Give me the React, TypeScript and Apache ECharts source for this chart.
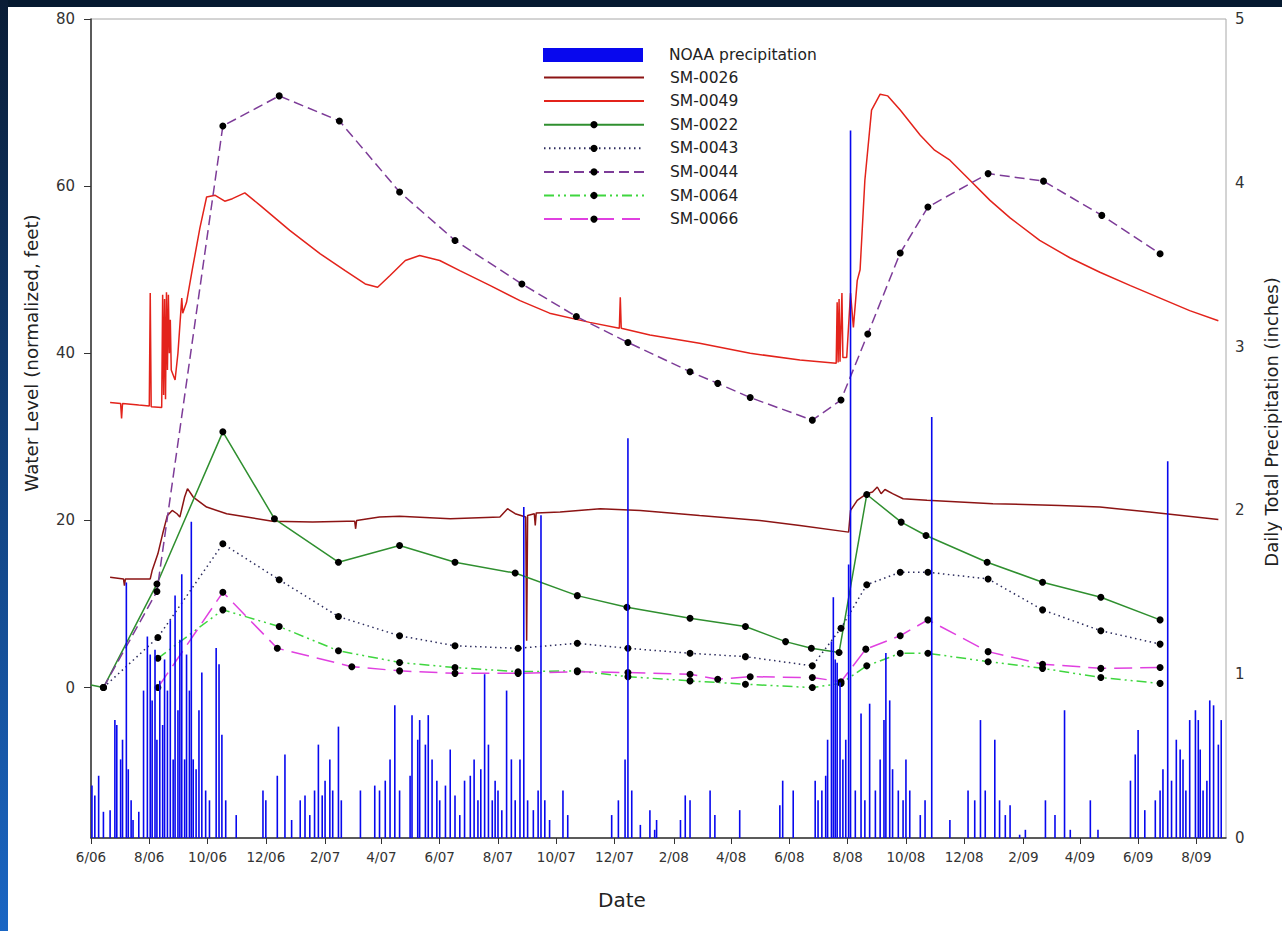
import React, { useEffect, useRef } from "react";
import * as echarts from "echarts";

// ---- data (day offsets from 2006-06-01) ----
const BASE = new Date(2006, 5, 1).getTime();
const DAY = 86400000;
const AXIS_END_DAY = 1188; // 2009-09-01

const precipitation: [number, number][] = [
  [1, 0.32], [4, 0.26], [8, 0.38], [13, 0.16], [20, 0.17], [25, 0.72], [27, 0.69], [31, 0.48], [33, 0.6],
  [37, 1.56], [39, 0.42], [42, 0.23], [44, 0.11], [50, 0.16], [55, 0.9], [59, 1.23], [62, 1.12], [64, 0.84],
  [67, 1.15], [69, 0.6], [72, 0.96], [75, 0.69], [77, 1.09], [80, 0.9], [83, 1.33], [86, 0.48], [88, 1.48],
  [91, 0.78], [93, 1.21], [95, 1.61], [98, 0.48], [100, 1.12], [103, 0.9], [105, 1.93], [107, 0.48],
  [110, 0.42], [113, 0.78], [116, 1.01], [120, 0.29], [124, 0.23], [131, 1.16], [134, 1.06], [137, 0.63],
  [141, 0.23], [152, 0.14], [180, 0.29], [183, 0.23], [195, 0.38], [203, 0.51], [210, 0.11], [219, 0.23],
  [224, 0.26], [229, 0.14], [234, 0.29], [238, 0.57], [242, 0.26], [245, 0.35], [250, 0.48], [253, 0.29],
  [259, 0.68], [262, 0.23], [282, 0.29], [297, 0.32], [302, 0.29], [308, 0.35], [313, 0.48], [318, 0.81],
  [323, 0.29], [334, 0.38], [336, 0.75], [342, 0.6], [344, 0.72], [350, 0.57], [353, 0.75], [357, 0.48],
  [362, 0.35], [365, 0.23], [371, 0.32], [376, 0.54], [381, 0.26], [386, 0.14], [391, 0.35], [397, 0.38],
  [401, 0.48], [405, 0.23], [408, 0.42], [412, 1.0], [416, 0.57], [420, 0.23], [423, 0.35], [426, 0.29],
  [430, 0.17], [435, 0.9], [440, 0.48], [444, 0.23], [449, 0.48], [453, 2.02], [457, 0.23], [463, 0.17],
  [468, 0.29], [471, 1.97], [475, 0.23], [480, 0.11], [494, 0.29], [499, 0.14], [545, 0.14], [552, 0.23],
  [559, 0.48], [562, 2.44], [566, 0.29], [575, 0.08], [585, 0.17], [590, 0.05], [592, 0.11], [617, 0.11],
  [622, 0.26], [627, 0.23], [648, 0.29], [653, 0.14], [679, 0.17], [721, 0.2], [724, 0.35], [735, 0.29],
  [758, 0.35], [761, 0.23], [765, 0.29], [769, 0.38], [771, 0.6], [775, 1.2], [777, 1.47], [779, 1.09],
  [781, 1.07], [784, 0.95], [787, 0.48], [790, 0.6], [793, 1.67], [795, 4.32], [800, 0.29], [806, 0.76],
  [810, 0.23], [815, 0.82], [821, 0.29], [826, 0.48], [830, 0.72], [832, 1.13], [836, 0.84], [839, 0.42],
  [845, 0.29], [850, 0.23], [853, 0.48], [857, 0.29], [868, 0.14], [873, 0.23], [880, 2.57], [899, 0.11],
  [918, 0.29], [925, 0.23], [931, 0.72], [936, 0.29], [946, 0.6], [951, 0.23], [957, 0.14], [962, 0.2],
  [972, 0.02], [978, 0.05], [999, 0.23], [1009, 0.14], [1019, 0.78], [1025, 0.05], [1046, 0.23],
  [1054, 0.05], [1088, 0.35], [1093, 0.51], [1096, 0.66], [1103, 0.17], [1114, 0.23], [1119, 0.29],
  [1122, 0.42], [1127, 2.3], [1131, 0.35], [1136, 0.6], [1140, 0.54], [1143, 0.48], [1146, 0.29],
  [1150, 0.72], [1156, 0.78], [1159, 0.72], [1161, 0.54], [1164, 0.29], [1168, 0.35], [1171, 0.84],
  [1175, 0.81], [1180, 0.57], [1183, 0.72],
];

const sm0026: [number, number][] = [
  [20, 13.2], [34, 13.0], [35, 12.2], [36, 13.0], [62, 13.0], [64, 14], [70, 16], [75, 18.4], [80, 20.6],
  [85, 21.2], [90, 20.8], [93, 20.4], [98, 22.8], [101, 23.8], [107, 22.8], [121, 21.6], [142, 20.8],
  [163, 20.4], [190, 19.9], [232, 19.8], [268, 19.9], [276, 19.9], [277, 19.0], [278, 20.0], [302, 20.4],
  [323, 20.5], [376, 20.2], [428, 20.4], [436, 21.4], [444, 20.8], [455, 20.4], [456, 5.6], [457, 20.6],
  [464, 20.8], [465, 19.4], [466, 20.9], [491, 21.0], [533, 21.4], [575, 21.2], [637, 20.6], [700, 20.0],
  [742, 19.4], [793, 18.6], [795, 21.2], [802, 22.4], [812, 23.2], [818, 23.4], [823, 24.0], [827, 23.2],
  [831, 23.7], [839, 23.2], [850, 22.6], [875, 22.4], [944, 22.0], [1014, 21.8], [1056, 21.6],
  [1108, 21.0], [1180, 20.1],
];

const sm0049: [number, number][] = [
  [20, 34.1], [31, 34.0], [32, 32.2], [33, 34.0], [50, 33.8], [61, 33.7], [62, 47.2], [63, 33.6],
  [74, 33.5], [75, 47.0], [76, 35.0], [77, 46.5], [78, 34.5], [79, 47.3], [80, 38.0], [81, 47.0],
  [82, 40.0], [83, 44.0], [84, 38.0], [88, 36.8], [91, 40.0], [95, 46.6], [96, 44.8], [100, 46.1],
  [106, 50.0], [114, 55.0], [121, 58.7], [130, 58.9], [140, 58.2], [148, 58.5], [161, 59.2], [177, 57.7],
  [208, 54.7], [240, 51.9], [266, 49.9], [287, 48.3], [300, 47.9], [313, 49.3], [329, 51.1], [344, 51.7],
  [365, 51.1], [386, 49.9], [418, 48.1], [449, 46.3], [480, 44.8], [522, 43.7], [553, 43.0], [554, 46.7],
  [555, 43.0], [585, 42.2], [637, 41.2], [690, 40.0], [742, 39.2], [780, 38.8], [781, 46.1], [782, 38.9],
  [783, 46.5], [784, 39.0], [786, 47.2], [787, 39.5], [791, 39.5], [795, 47.2], [798, 43.1], [802, 48.7],
  [805, 50.0], [810, 60.7], [817, 69.1], [826, 71.0], [834, 70.8], [847, 69.1], [868, 66.1], [883, 64.3],
  [899, 63.1], [920, 60.7], [941, 58.3], [962, 56.2], [993, 53.5], [1025, 51.4], [1056, 49.7],
  [1088, 48.1], [1119, 46.6], [1150, 45.1], [1180, 43.9],
];

const sm0022: [number, number][] = [
  [0, 0.3], [13, 0], [69, 12.4], [138, 30.6], [192, 20.2], [259, 15.0], [323, 17.0], [381, 15.0],
  [444, 13.7], [509, 11.0], [561, 9.6], [627, 8.3], [685, 7.3], [727, 5.5], [754, 4.7], [783, 4.2],
  [812, 23.1], [848, 19.8], [874, 18.2], [938, 15.0], [996, 12.6], [1057, 10.8], [1119, 8.1],
];

const sm0043: [number, number][] = [
  [13, 0], [70, 6.0], [138, 17.2], [197, 12.9], [259, 8.5], [323, 6.2], [381, 5.0], [447, 4.7],
  [509, 5.3], [562, 4.7], [627, 4.1], [685, 3.7], [755, 2.6], [785, 7.1], [812, 12.3], [847, 13.8],
  [876, 13.8], [939, 13.0], [996, 9.3], [1057, 6.8], [1119, 5.2],
];

const sm0044: [number, number][] = [
  [13, 0], [69, 11.5], [138, 67.2], [197, 70.8], [260, 67.8], [323, 59.3], [381, 53.5], [451, 48.3],
  [508, 44.4], [562, 41.3], [627, 37.8], [656, 36.4], [690, 34.7], [755, 32.0], [785, 34.4], [813, 42.3],
  [847, 52.0], [876, 57.5], [939, 61.5], [997, 60.6], [1058, 56.5], [1119, 51.9],
];

const sm0064: [number, number][] = [
  [70, 3.5], [138, 9.3], [197, 7.3], [259, 4.4], [323, 3.0], [381, 2.4], [447, 1.9], [509, 2.0],
  [562, 1.3], [627, 0.8], [685, 0.4], [755, 0.0], [785, 0.5], [812, 2.6], [847, 4.1], [876, 4.1],
  [939, 3.1], [996, 2.3], [1057, 1.2], [1119, 0.5],
];

const sm0066: [number, number][] = [
  [70, 0], [138, 11.4], [195, 4.7], [273, 2.5], [323, 2.0], [381, 1.7], [447, 1.7], [509, 1.9],
  [562, 1.8], [627, 1.6], [656, 1.0], [690, 1.3], [755, 1.2], [785, 0.7], [811, 4.6], [847, 6.2],
  [876, 8.1], [939, 4.3], [996, 2.8], [1057, 2.3], [1119, 2.4],
];

const leftTicks = [0, 20, 40, 60, 80];
const monthTicks: number[] = Array.from({ length: 20 }, (_, k) => new Date(2006, 5 + 2 * k, 1).getTime());

const FONT = "'DejaVu Sans', Verdana, sans-serif";
const toT = (d: number) => BASE + d * DAY;

// points sampled before the first field visit carry no marker
function conv(arr: [number, number][], markFirst = true) {
  return arr.map(([d, v], i) =>
    !markFirst && i === 0 ? { value: [toT(d), v], symbolSize: 0 } : [toT(d), v]
  );
}

function lineSeries(name: string, data: any[], color: string, type: any, dots: boolean) {
  return {
    name,
    type: "line",
    yAxisIndex: 0,
    data,
    symbol: dots ? "circle" : "none",
    symbolSize: 7,
    showSymbol: dots,
    itemStyle: { color: "#000" },
    lineStyle: { color, width: 1.5, type },
    z: 3,
  };
}

export default function App() {
  const ref = useRef<HTMLDivElement>(null);
  useEffect(() => {
    if (!ref.current) return;
    const chart = echarts.init(ref.current, undefined, { renderer: "svg" });
    const legendText = { fontSize: 15.5, color: "#222", fontFamily: FONT, padding: [0, 0, 0, 21] };
    chart.setOption({
      animation: false,
      backgroundColor: "#fff",
      grid: { left: 91, right: 56, top: 19, bottom: 93, show: true, borderColor: "#a8a8a8", borderWidth: 1 },
      legend: [
        {
          data: [{ name: "NOAA precipitation", icon: "rect" }],
          orient: "vertical",
          left: 543,
          top: 47,
          padding: 0,
          itemWidth: 100,
          itemHeight: 14,
          selectedMode: false,
          textStyle: legendText,
        },
        {
          data: [
            { name: "SM-0026", itemStyle: { opacity: 0 } },
            { name: "SM-0049", itemStyle: { opacity: 0 } },
            "SM-0022",
            "SM-0043",
            "SM-0044",
            "SM-0064",
            "SM-0066",
          ],
          orient: "vertical",
          left: 543,
          top: 69.5,
          padding: 0,
          itemWidth: 100,
          itemHeight: 9,
          itemGap: 7.6,
          selectedMode: false,
          textStyle: legendText,
        },
      ],
      xAxis: {
        type: "value",
        min: BASE,
        max: toT(AXIS_END_DAY),
        axisLine: { show: true, onZero: false, lineStyle: { color: "#333", width: 1.5 } },
        axisTick: { show: true, length: 6, lineStyle: { color: "#333" }, customValues: monthTicks },
        axisLabel: {
          customValues: monthTicks,
          color: "#333",
          fontSize: 13.5,
          fontFamily: FONT,
          margin: 12,
          formatter: (v: number) => {
            const d = new Date(v);
            return `${d.getMonth() + 1}/${String(d.getFullYear()).slice(2)}`;
          },
        },
        splitLine: { show: false },
      },
      yAxis: [
        {
          type: "value",
          min: -18,
          max: 80,
          position: "left",
          axisLine: { show: true, lineStyle: { color: "#333", width: 1.5 } },
          axisTick: { show: true, length: 7, lineStyle: { color: "#333" }, customValues: leftTicks },
          axisLabel: { customValues: leftTicks, color: "#333", fontSize: 15, fontFamily: FONT, margin: 16 },
          splitLine: { show: false },
        },
        {
          type: "value",
          min: 0,
          max: 5,
          interval: 1,
          position: "right",
          axisLine: { show: false },
          axisTick: { show: false },
          axisLabel: { color: "#333", fontSize: 15, fontFamily: FONT, margin: 9 },
          splitLine: { show: false },
        },
      ],
      graphic: [
        { type: "rect", silent: true, z: 100, shape: { x: 0, y: 0, width: 1282, height: 7 }, style: { fill: "#061a30" } },
        {
          type: "rect",
          silent: true,
          z: 100,
          shape: { x: 0, y: 0, width: 8, height: 931 },
          style: {
            fill: {
              type: "linear", x: 0, y: 0, x2: 0, y2: 1,
              colorStops: [
                { offset: 0, color: "#0a1d36" },
                { offset: 1, color: "#1a66c4" },
              ],
            },
          },
        },
        {
          type: "text", silent: true, x: 31, y: 353, rotation: Math.PI / 2,
          style: { text: "Water Level (normalized, feet)", fontSize: 18.3, fontFamily: FONT, fill: "#222", align: "center", verticalAlign: "middle" },
        },
        {
          type: "text", silent: true, x: 1271, y: 422, rotation: Math.PI / 2,
          style: { text: "Daily Total Precipitation (inches)", fontSize: 18, fontFamily: FONT, fill: "#222", align: "center", verticalAlign: "middle" },
        },
        {
          type: "text", silent: true, x: 622, y: 900,
          style: { text: "Date", fontSize: 20, fontFamily: FONT, fill: "#222", align: "center", verticalAlign: "middle" },
        },
      ],
      series: [
        lineSeries("SM-0026", conv(sm0026), "#8c1414", "solid", false),
        lineSeries("SM-0049", conv(sm0049), "#e3231b", "solid", false),
        lineSeries("SM-0022", conv(sm0022, false), "#2f8f2f", "solid", true),
        lineSeries("SM-0043", conv(sm0043), "#2b2b5c", [1.5, 3.5], true),
        lineSeries("SM-0044", conv(sm0044), "#7d3c98", [10, 5], true),
        lineSeries("SM-0064", conv(sm0064), "#3fd63f", [10, 4, 2, 4, 2, 4], true),
        lineSeries("SM-0066", conv(sm0066), "#e040e0", [18, 8], true),
        {
          name: "NOAA precipitation",
          type: "bar",
          yAxisIndex: 1,
          data: conv(precipitation),
          barWidth: 1.6,
          itemStyle: { color: "#0808ee" },
          z: 4,
        },
      ],
    });
    return () => chart.dispose();
  }, []);
  return (
    <div style={{ position: "fixed", left: 0, top: 0, width: 1282, height: 931, background: "#fff" }}>
      <div ref={ref} style={{ width: 1282, height: 931 }} />
    </div>
  );
}
